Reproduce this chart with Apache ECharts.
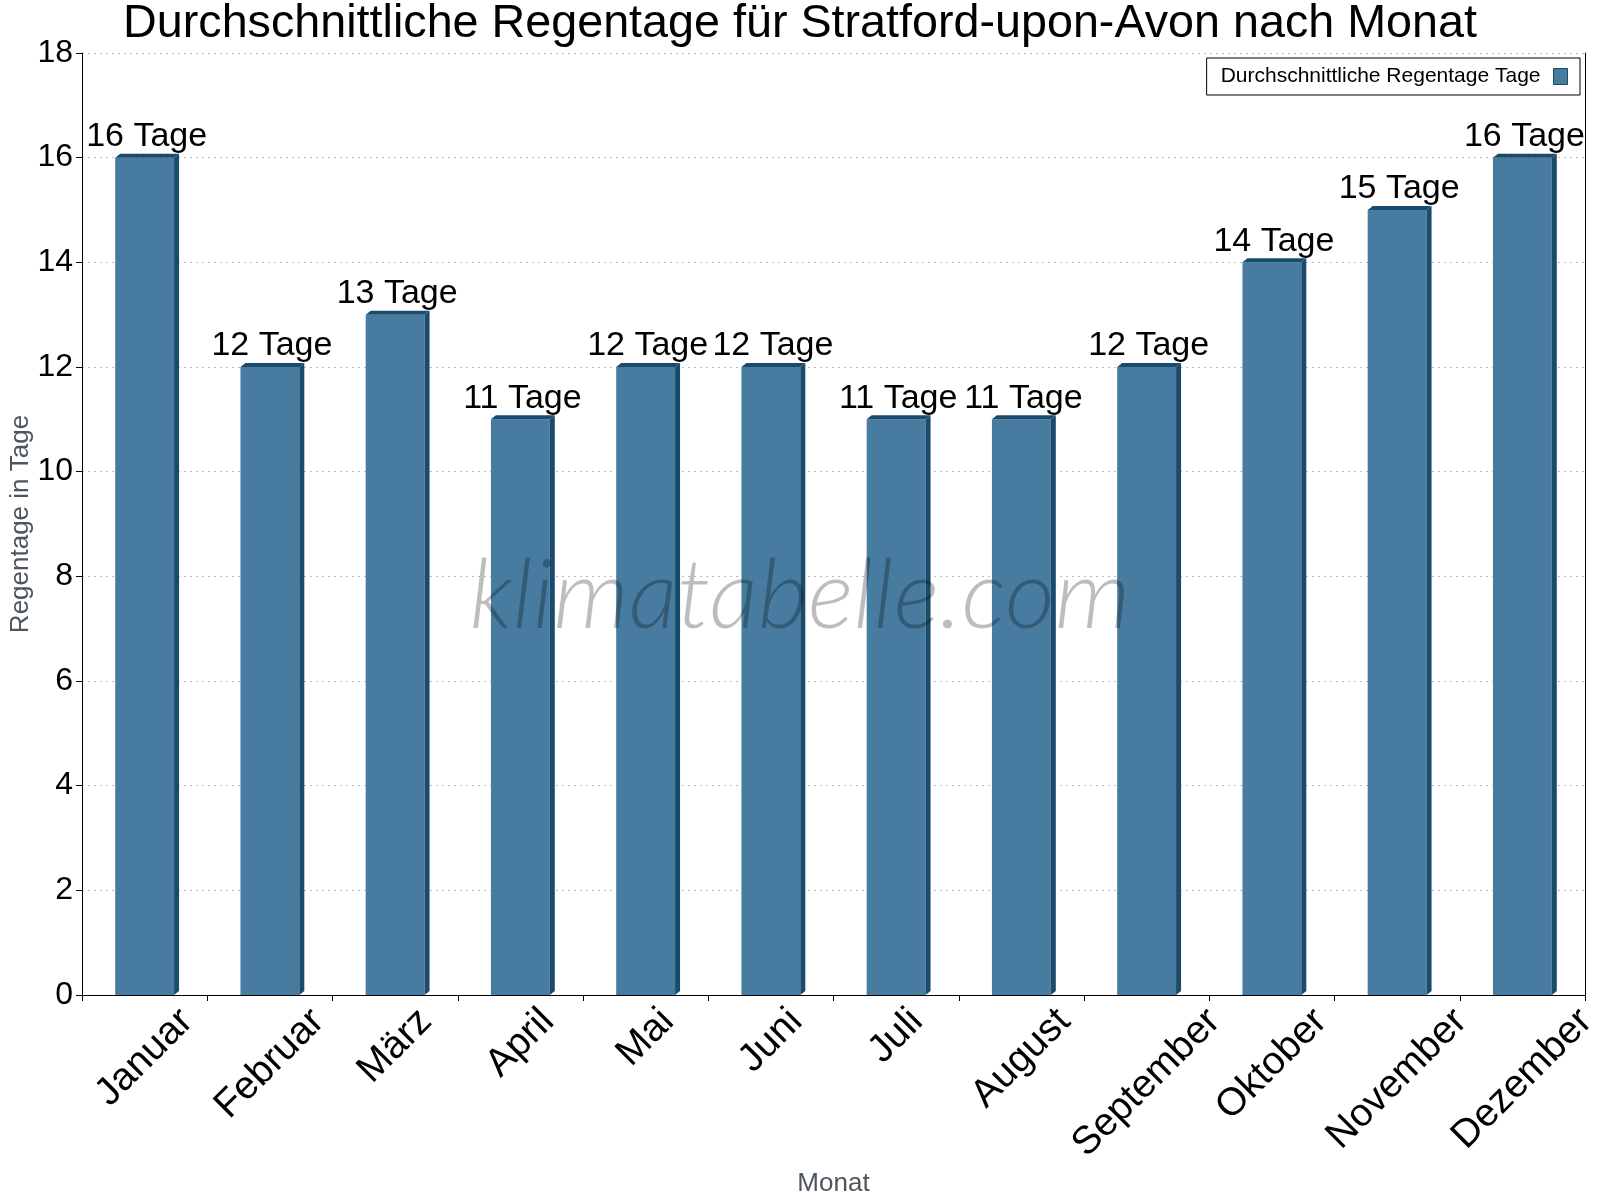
<!DOCTYPE html>
<html>
<head>
<meta charset="utf-8">
<script src="https://cdn.jsdelivr.net/npm/echarts@6/dist/echarts.min.js"></script>
<style>
  html, body { margin: 0; padding: 0; background: #fff; }
  #chart { width: 1600px; height: 1200px; }
</style>
</head>
<body>
<div id="chart"></div>
<script>
var months = ['Januar', 'Februar', 'März', 'April', 'Mai', 'Juni', 'Juli', 'August', 'September', 'Oktober', 'November', 'Dezember'];
var rainDays = [16, 12, 13, 11, 12, 12, 11, 11, 12, 14, 15, 16];
var seriesName = 'Durchschnittliche Regentage Tage';
var unit = 'Tage';

var FONT = '"Liberation Sans", Arial, sans-serif';
var FRONT = '#477b9f';
var DARK = '#1a4b6d';
var VALUE_SIZE = 34;
var MONTH_SIZE = 39;

// measuring for the rotated month labels (box centred under the tick)
var measureCtx = document.createElement('canvas').getContext('2d');
measureCtx.font = MONTH_SIZE + 'px "Liberation Sans"';

var chart = echarts.init(document.getElementById('chart'));

function renderBar(params, api) {
    var idx = params.dataIndex;
    var val = api.value(1);
    var top = api.coord([idx, val]);
    var base = api.coord([idx, 0]);
    var band = api.size([1, 0])[0];
    var w = band * 0.47;
    var x0 = top[0] - w / 2, x1 = top[0] + w / 2;
    var dx = 5, dy = 4;
    var yT = top[1], yB = base[1];

    var label = months[idx];
    var tw = measureCtx.measureText(label).width;
    var th = MONTH_SIZE * 1.05;
    var boxH = (tw + th) * Math.SQRT1_2;

    return {
        type: 'group',
        children: [
            { type: 'polygon', shape: { points: [[x0, yB], [x1, yB], [x1, yT], [x0, yT]] }, style: { fill: FRONT } },
            { type: 'polygon', shape: { points: [[x1, yB], [x1 + dx, yB - dy], [x1 + dx, yT - dy], [x1, yT]] }, style: { fill: DARK } },
            { type: 'polygon', shape: { points: [[x0, yT], [x0 + dx, yT - dy], [x1 + dx, yT - dy], [x1, yT]] }, style: { fill: DARK } },
            {
                type: 'text', x: top[0] + 2, y: yT - dy,
                style: { text: val + ' ' + unit, font: VALUE_SIZE + 'px ' + FONT, fill: '#000', align: 'center', verticalAlign: 'bottom' }
            },
            {
                type: 'text', x: base[0], y: yB + 6 + boxH / 2, rotation: Math.PI / 4,
                style: { text: label, font: MONTH_SIZE + 'px ' + FONT, fill: '#000', align: 'center', verticalAlign: 'middle' }
            }
        ]
    };
}

var option = {
    backgroundColor: '#fff',
    animation: false,
    title: {
        text: 'Durchschnittliche Regentage für Stratford-upon-Avon nach Monat',
        left: 'center',
        top: 1,
        padding: 0,
        textStyle: { fontFamily: FONT, fontSize: 46.7, fontWeight: 'normal', color: '#000' }
    },
    legend: {
        right: 20,
        top: 58,
        align: 'right',
        padding: [8, 12, 8, 14],
        borderColor: '#000',
        borderWidth: 1,
        backgroundColor: '#fff',
        itemWidth: 14,
        itemHeight: 16,
        icon: 'rect',
        itemStyle: { borderColor: DARK, borderWidth: 1 },
        textStyle: { fontFamily: FONT, fontSize: 21, color: '#000', padding: [0, 8, 0, 0] },
        data: [seriesName]
    },
    grid: { left: 82, right: 15, top: 53, bottom: 205, outerBoundsMode: 'none' },
    xAxis: {
        type: 'category',
        data: months,
        name: 'Monat',
        nameLocation: 'middle',
        nameGap: 176,
        nameMoveOverlap: false,
        nameTextStyle: { fontFamily: FONT, fontSize: 26, color: '#4d5560', verticalAlign: 'top' },
        axisLine: { lineStyle: { color: '#000', width: 1 } },
        axisTick: { show: true, length: 6, lineStyle: { color: '#000' } },
        axisLabel: { show: false },
        splitLine: { show: false }
    },
    yAxis: [{
        type: 'value',
        min: 0,
        max: 18,
        interval: 2,
        name: 'Regentage in Tage',
        nameLocation: 'middle',
        nameGap: 48,
        nameMoveOverlap: false,
        nameTextStyle: { fontFamily: FONT, fontSize: 26, color: '#4d5560' },
        axisLine: { show: true, lineStyle: { color: '#000', width: 1 } },
        axisTick: { show: true, length: 6, lineStyle: { color: '#000' } },
        axisLabel: { fontFamily: FONT, fontSize: 32, color: '#000', margin: 9 },
        splitLine: { show: true, lineStyle: { color: '#bbb', type: [2, 4], width: 1 } }
    }, {
        type: 'value',
        position: 'right',
        min: 0,
        max: 18,
        interval: 2,
        axisLine: { show: true, lineStyle: { color: '#000', width: 1 } },
        axisTick: { show: false },
        axisLabel: { show: false },
        splitLine: { show: false }
    }],
    graphic: [{
        type: 'text',
        left: 'center',
        top: 548,
        z: 100,
        style: {
            text: 'klimatabelle.com',
            fontFamily: 'Lato, "Open Sans", sans-serif',
            fontSize: 97,
            fontStyle: 'italic',
            fontWeight: 300,
            fill: 'rgba(0,0,0,0.26)'
        }
    }],
    series: [{
        name: seriesName,
        type: 'custom',
        clip: false,
        itemStyle: { color: FRONT },
        renderItem: renderBar,
        encode: { x: 0, y: 1 },
        data: rainDays.map(function (v, i) { return [i, v]; })
    }]
};

chart.setOption(option);
window.addEventListener('resize', chart.resize);
</script>
</body>
</html>
